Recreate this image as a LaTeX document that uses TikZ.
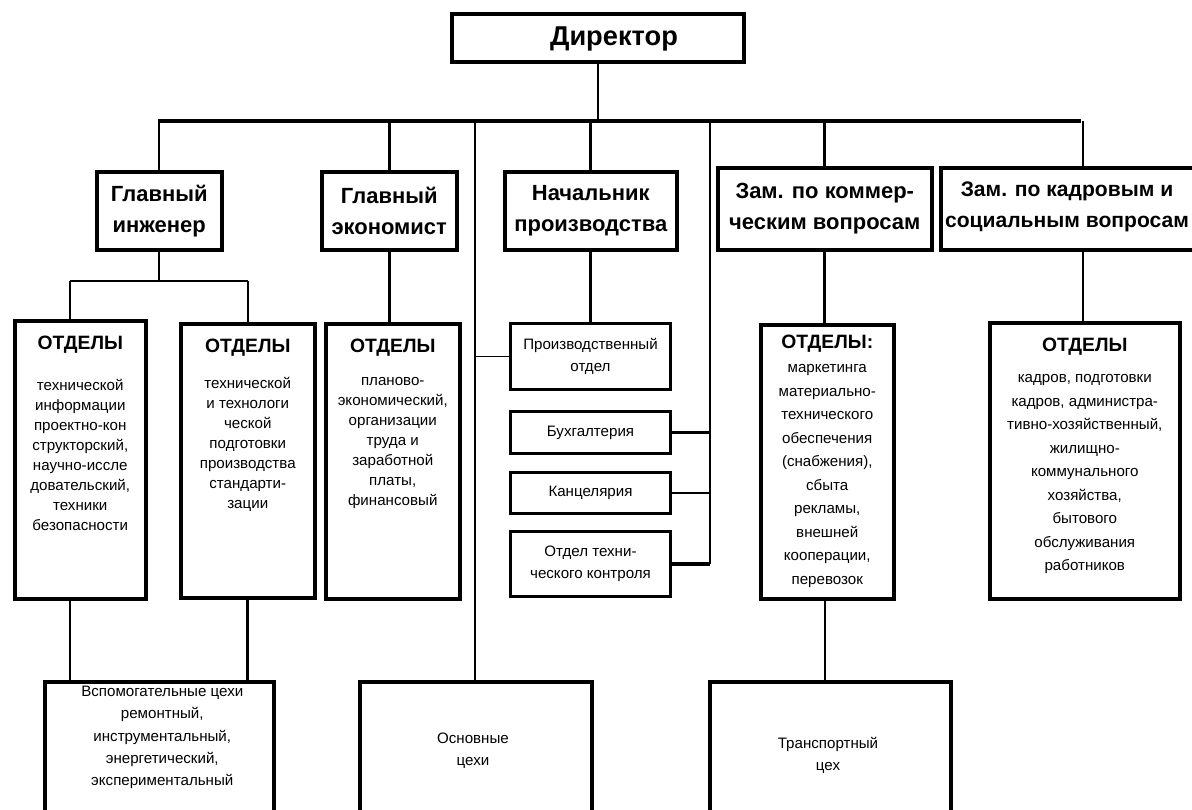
\documentclass[tikz,border=0pt]{standalone}
\usepackage{fontspec}
\setmainfont{Liberation Sans}
\usetikzlibrary{calc}
\begin{document}
\begin{tikzpicture}[x=0.02cm,y=-0.02cm,
  box/.style={draw, line width=2pt, inner sep=0pt, anchor=north west, align=center},
  smallbox/.style={box, line width=1.7pt},
  sz/.style 2 args={minimum width=#1*0.02cm, minimum height=#2*0.02cm},
  conmain/.style={line width=1.8pt},
  conthin/.style={line width=1.1pt},
  head/.style={font=\bfseries\fontsize{12.5}{17.5}\selectfont},
  depthead/.style={font=\bfseries\fontsize{11}{13}\selectfont, inner sep=0pt},
  dept/.style={font=\fontsize{8.6}{11.4}\selectfont, align=center, anchor=north, inner sep=0pt},
  deptwide/.style={dept, font=\fontsize{8.6}{13.4}\selectfont},
  small/.style={font=\fontsize{8.6}{12.5}\selectfont, align=center},
]
\useasboundingbox (0,0) rectangle (1192,809);
\clip (0,0) rectangle (1192,809);

% top level
\node[box, sz={292}{48}] (dir) at (450,12) {};
\node[font=\bfseries\fontsize{15.5}{17}\selectfont] (dirt) at (614,39) {Директор};

% deputies
\node[box, sz={125}{78}, head] (ge) at (95,170) {Главный\\инженер};
\node[box, sz={135}{78}, head] (gec) at (320,170) {Главный\\экономист};
\node[box, sz={172}{78}, head] (np) at (503,170) {Начальник\\производства};
\node[box, sz={214}{82}, head] (zk) at (716,166) {Зам. по коммер-\\ческим вопросам};
\node[box, sz={284}{82}] (zs) at (939,166) {};
\node[font=\bfseries\fontsize{12}{17.5}\selectfont, align=center] (zst) at (1067,207) {Зам. по кадровым и\\социальным вопросам};

% departments
\node[box, sz={131}{278}] (o1) at (13,319) {};
\node[box, sz={134}{274}] (o2) at (179,322) {};
\node[box, sz={134}{275}] (o3) at (324,322) {};
\node[box, sz={133}{274}] (o5) at (759,323) {};
\node[box, sz={190}{276}] (o6) at (988,321) {};

\node[depthead] (o1h) at ($(o1.north)+(0,26)$) {ОТДЕЛЫ};
\node[depthead] (o2h) at ($(o2.north)+(0,26)$) {ОТДЕЛЫ};
\node[depthead] (o3h) at ($(o3.north)+(0,26)$) {ОТДЕЛЫ};
\node[depthead] (o5h) at ($(o5.north)+(0,21)$) {ОТДЕЛЫ:};
\node[depthead] (o6h) at ($(o6.north)+(0,26)$) {ОТДЕЛЫ};

\node[dept] (o1t) at ($(o1.north)+(0,60)$) {технической\\информации\\проектно-кон\\структорский,\\научно-иссле\\довательский,\\техники\\безопасности};
\node[dept] (o2t) at ($(o2.north)+(0,55)$) {технической\\и технологи\\ческой\\подготовки\\производства\\стандарти-\\зации};
\node[dept] (o3t) at ($(o3.north)+(0,55)$) {планово-\\экономический,\\организации\\труда и\\заработной\\платы,\\финансовый};
\node[deptwide] (o5t) at ($(o5.north)+(0,41)$) {маркетинга\\материально-\\технического\\обеспечения\\(снабжения),\\сбыта\\рекламы,\\внешней\\кооперации,\\перевозок};
\node[deptwide] (o6t) at ($(o6.north)+(0,53)$) {кадров, подготовки\\кадров, администра-\\тивно-хозяйственный,\\жилищно-\\коммунального\\хозяйства,\\бытового\\обслуживания\\работников};

% production services
\node[smallbox, sz={160}{66}, small] (pd) at (509,322) {Производственный\\отдел};
\node[smallbox, sz={160}{42}, small] (bu) at (509,410) {Бухгалтерия};
\node[smallbox, sz={160}{41}, small] (ka) at (509,471) {Канцелярия};
\node[smallbox, sz={160}{65}, small] (otk) at (509,530) {Отдел техни-\\ческого контроля};

% shops
\node[box, sz={229}{160}] (vc) at (43,680) {};
\node[box, sz={232}{160}] (oc) at (358,680) {};
\node[box, sz={241}{160}] (tc) at (708,680) {};
\node[dept, font=\fontsize{8.6}{12.6}\selectfont] (vct) at ($(vc.north)+(3,6)$) {Вспомогательные цехи\\ремонтный,\\инструментальный,\\энергетический,\\экспериментальный};
\node[small] (oct) at (473,751) {Основные\\цехи};
\node[small] (tct) at (828,755) {Транспортный\\цех};

% main bus
\coordinate (busL) at (157.5,121);
\coordinate (busR) at (1081,121);
\coordinate (t1) at (475,121);
\coordinate (t2) at (710,121);
\draw[conmain] (busL) -- (busR);
\draw[conthin] (dir.south) -- (dir.south |- busL);

\draw[conthin] (ge.north) -- (ge.north |- busL);
\draw[conmain] (gec.north) -- (gec.north |- busL);
\draw[conmain] (np.north) -- (np.north |- busL);
\draw[conmain] (zk.north) -- (zk.north |- busL);
\draw[conthin] (zs.north) -- (zs.north |- busL);

% chief engineer branch
\coordinate (gjl) at (70,281);
\draw[conthin] (ge.south) -- (ge.south |- gjl);
\draw[conthin] (gjl) -- (gjl -| o2.north);
\draw[conthin] (gjl) -- (gjl |- o1.north);
\draw[conthin] (gjl -| o2.north) -- (o2.north);
\draw[conthin] (gjl |- o1.south) -- (gjl |- vc.north);
\draw[conmain] (o2.south) -- (o2.south |- vc.north);

% other deputies
\draw[conmain] (gec.south) -- (gec.south |- o3.north);
\draw[conmain] (np.south) -- (np.south |- pd.north);
\draw[conmain] (zk.south) -- (zk.south |- o5.north);
\draw[conthin] (zk.south |- o5.south) -- (zk.south |- tc.north);
\draw[conthin] (zs.south) -- (zs.south |- o6.north);

% direct lines from the director
\draw[conthin] (t1) -- (t1 |- oc.north);
\draw[conthin] (t1 |- pd.west) -- (pd.west);
\draw[conthin] (t2) -- (t2 |- otk.east);
\draw[conmain] (bu.east) -- (bu.east -| t2);
\draw[conthin] (ka.east) -- (ka.east -| t2);
\draw[conmain] (otk.east) -- (otk.east -| t2);
\end{tikzpicture}
\end{document}
